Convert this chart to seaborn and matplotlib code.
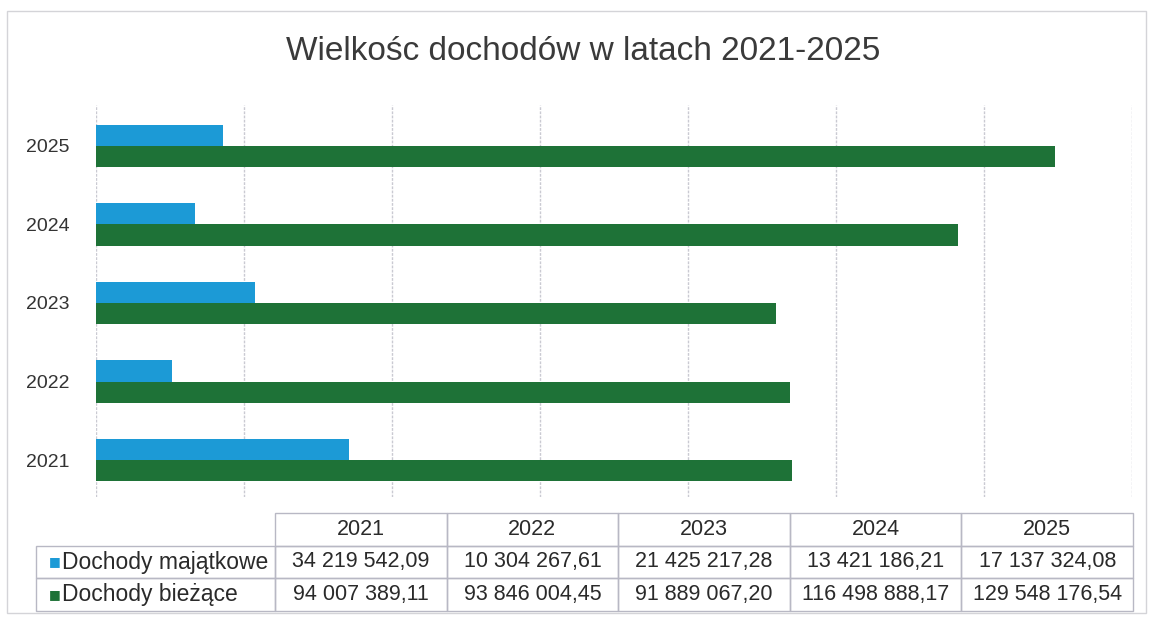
import numpy as np
import pandas as pd
import matplotlib
matplotlib.use("Agg")
import matplotlib.pyplot as plt
from matplotlib.patches import Rectangle
from matplotlib.table import Table
import seaborn as sns

# dane z wykresu
lata = ["2021", "2022", "2023", "2024", "2025"]
serie = ["Dochody majątkowe", "Dochody bieżące"]
majatkowe = [34219542.09, 10304267.61, 21425217.28, 13421186.21, 17137324.08]
biezace = [94007389.11, 93846004.45, 91889067.20, 116498888.17, 129548176.54]
kolory = ["#1c9ad6", "#1e7237"]
tytul = "Wielkośc dochodów w latach 2021-2025"

W, H = 1151, 639


def fmt_pl(v):
    return f"{v:,.2f}".replace(",", " ").replace(".", ",")


df = pd.DataFrame({
    "rok": lata * 2,
    "seria": [serie[0]] * len(lata) + [serie[1]] * len(lata),
    "wartosc": majatkowe + biezace,
})

sns.set_theme(style="white")
plt.rcParams["font.family"] = ["Liberation Sans", "DejaVu Sans"]

fig = plt.figure(figsize=(W / 100, H / 100), dpi=100)
fig.patch.set_facecolor("white")

# ramka strony (skan)
fig.add_artist(Rectangle((7 / W, 1 - 613 / H), (1146 - 7) / W, (613 - 11) / H,
                         transform=fig.transFigure, fill=False,
                         edgecolor="#d4d4d8", lw=1))

ax = fig.add_axes([96 / W, 1 - 497 / H, (1132 - 96) / W, (497 - 105) / H])
sns.barplot(data=df, x="wartosc", y="rok", hue="seria",
            order=lata[::-1], hue_order=serie, palette=kolory,
            width=0.54, saturation=1, orient="h", legend=False,
            linewidth=0, ax=ax)

ax.set_xlim(0, 140e6)
ax.set_ylim(4.47, -0.52)
ax.set_xticks(np.arange(0, 140e6 + 1, 20e6))
ax.set_axisbelow(True)
ax.xaxis.grid(True, color="#cacad2", lw=1, ls=(0, (2, 1)))
ax.yaxis.grid(False)
ax.tick_params(axis="x", labelbottom=False, length=0)
ax.tick_params(axis="y", length=0, labelsize=14, pad=19, labelcolor="#333333")
for s in ax.spines.values():
    s.set_visible(False)
ax.set_xlabel("")
ax.set_ylabel("")
ax.set_facecolor("none")

fig.text(583 / W, 1 - 52 / H, tytul, ha="center", va="center",
         fontsize=24, color="#3a3a3a")

# tabela danych pod wykresem
tax = fig.add_axes([36 / W, 1 - 611 / H, (1133 - 36) / W, (611 - 513) / H])
tax.axis("off")
komorki = [[""] + lata,
           [serie[0]] + [fmt_pl(v) for v in majatkowe],
           [serie[1]] + [fmt_pl(v) for v in biezace]]
szer = [239] + [171.6] * 5
tbl = Table(tax, bbox=[0, 0, 1, 1])
for r, wiersz in enumerate(komorki):
    for c, txt in enumerate(wiersz):
        cell = tbl.add_cell(r, c, width=szer[c], height=1, text=txt,
                            loc="left" if c == 0 else "center",
                            edgecolor="#b8b8c4", facecolor="none")
        cell.set_linewidth(1)
        cell.PAD = 0.11 if c == 0 else 0.1
        cell.get_text().set_color("#2a2a2a")
        if r == 0 and c == 0:
            cell.visible_edges = "open"
tbl.auto_set_font_size(False)
tbl.set_fontsize(15.5)
for (r, c), cell in tbl.get_celld().items():
    if c == 0:
        cell.get_text().set_fontsize(16.5)
tax.add_table(tbl)

# kwadraciki legendy przy nazwach wierszy
for i, kol in enumerate(kolory):
    tax.text(19 / 1097, 1 - (i + 1.5) / 3, "■", color=kol, fontsize=9,
             ha="center", va="center", family=["DejaVu Sans"])

fig.savefig("out.png", dpi=100)
